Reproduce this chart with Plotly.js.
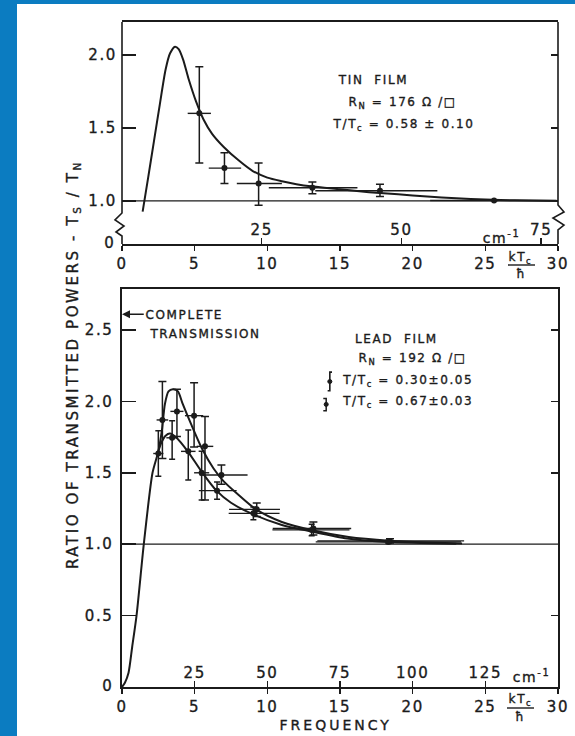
<!DOCTYPE html>
<html>
<head>
<meta charset="utf-8">
<script src="https://cdn.plot.ly/plotly-3.0.1.min.js"></script>
<style>
html,body{margin:0;padding:0;background:#0b7cc1;width:575px;height:736px;overflow:hidden}
#plot{position:absolute;left:17px;top:4px;width:558px;height:732px;background:#fff}
#plot svg text{letter-spacing:1.6px;stroke:#1b1b1b;stroke-width:0.35px}
#plot .annotation[data-index="0"] text{letter-spacing:2.6px}
#plot .annotation[data-index="1"] text{letter-spacing:3px}
</style>
</head>
<body>
<div id="plot"></div>
<script>
// ---------- tick labels ----------
const kTicks = [0, 5, 10, 15, 20, 25, 30];
const kTickText = ['0', '5', '10', '15', '20', '25', '30'];
const tinCmTicks = [25, 50, 75];
const tinCmText = ['25', '50', '75'];
const leadCmTicks = [25, 50, 75, 100, 125];
const leadCmText = ['25', '50', '75', '100', '125'];
const tinCmPerUnit = 2.6;   // cm^-1 per kTc/hbar (tin)
const leadCmPerUnit = 5.0;  // cm^-1 per kTc/hbar (lead)
const tinYTicks = [0.705, 1.0, 1.5, 2.0];
const tinYText = ['0', '1.0', '1.5', '2.0'];
const leadYTicks = [0, 0.5, 1.0, 1.5, 2.0, 2.5];
const leadYText = ['0', '0.5', '1.0', '1.5', '2.0', '2.5'];

// ---------- tin film (top) ----------
const tinCurveX = [1.42, 1.8, 2.2, 2.6, 3.0, 3.3, 3.65, 3.9, 4.2, 4.6, 5.1, 5.6, 6.2, 7.0, 8.0, 9.0, 10, 11, 12, 13, 15, 17, 19, 21, 23, 25, 27, 30];
const tinCurveY = [0.927, 1.16, 1.41, 1.66, 1.9, 2.01, 2.057, 2.04, 1.97, 1.83, 1.68, 1.56, 1.46, 1.37, 1.28, 1.205, 1.16, 1.135, 1.115, 1.10, 1.08, 1.06, 1.045, 1.03, 1.018, 1.01, 1.004, 1.0];
const tinX = [5.32, 7.05, 9.4, 13.1, 17.75, 25.6];
const tinY = [1.60, 1.225, 1.12, 1.09, 1.07, 1.003];
const tinEyPlus = [0.32, 0.105, 0.14, 0.04, 0.045, 0];
const tinEyMinus = [0.34, 0.105, 0.15, 0.04, 0.04, 0];
const tinExPlus = [0.8, 1.15, 1.6, 3.1, 3.95, 4.3];
const tinExMinus = [0.8, 1.08, 1.5, 3.0, 4.45, 4.4];

// ---------- lead film (bottom) ----------
const leadRiseX = [0, 0.2, 0.45, 0.7, 1.0, 1.5, 2.1, 2.5];
const leadRiseY = [0, 0.03, 0.1, 0.28, 0.5, 1.0, 1.5, 1.65];
const leadHighX = [2.75, 2.95, 3.2, 3.5, 3.85, 4.15, 4.8, 5.5, 6.3, 7.0, 7.85, 9.2, 11, 13.1, 15.6, 18.4, 21, 23.4];
const leadHighY = [1.8, 1.98, 2.07, 2.085, 2.07, 1.99, 1.83, 1.67, 1.53, 1.44, 1.36, 1.245, 1.155, 1.097, 1.05, 1.024, 1.012, 1.005];
const leadLowX = [2.7, 3.0, 3.3, 3.7, 4.56, 5.5, 6.5, 7.5, 9.0, 11, 13, 15.5, 18.3, 23];
const leadLowY = [1.71, 1.76, 1.775, 1.75, 1.645, 1.505, 1.375, 1.29, 1.21, 1.135, 1.09, 1.04, 1.015, 1.003];

const leadAX = [2.78, 3.78, 4.96, 5.71, 6.84, 9.27, 13.17, 18.44];
const leadAY = [1.87, 1.93, 1.90, 1.685, 1.485, 1.244, 1.11, 1.023];
const leadAEyP = [0.27, 0.155, 0.23, 0.21, 0.07, 0.045, 0.045, 0.015];
const leadAEyM = [0.27, 0.175, 0.22, 0.375, 0.065, 0.05, 0.045, 0.015];
const leadAExP = [0.4, 0.45, 0.63, 0.57, 1.8, 1.6, 2.6, 5.1];
const leadAExM = [0.4, 0.45, 0.63, 0.57, 1.5, 1.9, 2.8, 5.0];

const leadBX = [2.5, 3.45, 4.56, 5.48, 6.54, 9.04, 13.05, 18.33];
const leadBY = [1.635, 1.745, 1.65, 1.50, 1.375, 1.216, 1.10, 1.016];
const leadBEyP = [0.16, 0.12, 0.15, 0.15, 0.06, 0.045, 0.04, 0.012];
const leadBEyM = [0.16, 0.15, 0.2, 0.19, 0.06, 0.045, 0.04, 0.012];
const leadBExP = [0.35, 0.4, 0.5, 0.52, 1.35, 1.8, 2.6, 5.0];
const leadBExM = [0.35, 0.4, 0.5, 0.52, 1.25, 1.7, 2.7, 5.0];

// ---------- helpers (page pixel -> paper) ----------
const PX = p => (p - 122) / 436;
const PY = p => (687 - p) / 665;
const INK = '#1b1b1b';

const curveLine = {color: INK, width: 2, shape: 'spline', smoothing: 0.7};
function pts(x, y, eyp, eym, exp, exm, xa, ya, cap) {
  return {
    x: x, y: y, xaxis: xa, yaxis: ya, mode: 'markers', type: 'scatter', hoverinfo: 'skip',
    marker: {color: INK, size: 6},
    error_y: {type: 'data', symmetric: false, array: eyp, arrayminus: eym, color: INK, thickness: 1.5, width: cap},
    error_x: {type: 'data', symmetric: false, array: exp, arrayminus: exm, color: INK, thickness: 1.4, width: 0},
    cliponaxis: false
  };
}

const traces = [
  {x: tinCurveX, y: tinCurveY, xaxis: 'x', yaxis: 'y', mode: 'lines', line: curveLine, hoverinfo: 'skip'},
  pts(tinX, tinY, tinEyPlus, tinEyMinus, tinExPlus, tinExMinus, 'x', 'y', 4),
  {x: leadRiseX.concat(leadHighX), y: leadRiseY.concat(leadHighY), xaxis: 'x2', yaxis: 'y2', mode: 'lines', line: curveLine, hoverinfo: 'skip'},
  {x: leadRiseX.slice(-1).concat(leadLowX), y: leadRiseY.slice(-1).concat(leadLowY), xaxis: 'x2', yaxis: 'y2', mode: 'lines', line: curveLine, hoverinfo: 'skip'},
  pts(leadAX, leadAY, leadAEyP, leadAEyM, leadAExP, leadAExM, 'x2', 'y2', 4),
  pts(leadBX, leadBY, leadBEyP, leadBEyM, leadBExP, leadBExM, 'x2', 'y2', 3),
  // empty traces to register the overlay axes
  {x: [], y: [], xaxis: 'x3', yaxis: 'y', mode: 'markers', hoverinfo: 'skip'},
  {x: [], y: [], xaxis: 'x', yaxis: 'y3', mode: 'markers', hoverinfo: 'skip'},
  {x: [], y: [], xaxis: 'x4', yaxis: 'y2', mode: 'markers', hoverinfo: 'skip'},
  {x: [], y: [], xaxis: 'x2', yaxis: 'y4', mode: 'markers', hoverinfo: 'skip'}
];

const tickFont = {family: 'DejaVu Sans', size: 15, color: INK};
const baseX = {
  range: [0, 30], tickvals: kTicks, ticktext: kTickText, ticks: 'outside', ticklen: 5, tickwidth: 1.5,
  tickcolor: INK, showline: true, mirror: true, linewidth: 1.6, linecolor: INK,
  showgrid: false, zeroline: false, tickfont: tickFont, fixedrange: true
};
const cmAxis = (over, anchor, maxCm, vals, txt) => ({
  overlaying: over, anchor: anchor, side: 'bottom', range: [0, maxCm], tickvals: vals, ticktext: txt,
  ticks: 'inside', ticklen: 6, tickwidth: 1.5, tickcolor: INK, ticklabelposition: 'inside',
  showline: false, showgrid: false, zeroline: false, tickfont: tickFont
});
const tinRange = [0.705, 2.226];
const leadRange = [0, 2.787];

const layout = {
  width: 558, height: 732,
  margin: {l: 105, r: 17, t: 18, b: 49, pad: 0},
  paper_bgcolor: '#ffffff', plot_bgcolor: 'rgba(0,0,0,0)',
  showlegend: false,
  font: {family: 'DejaVu Sans', size: 14, color: INK},
  xaxis: Object.assign({}, baseX, {domain: [0, 1], anchor: 'y'}),
  yaxis: {domain: [PY(244), 1], anchor: 'x', range: tinRange, tickvals: tinYTicks, ticktext: tinYText,
    ticks: 'inside', ticklen: 14, tickwidth: 1.5, tickcolor: INK, showline: false, showgrid: false,
    zeroline: false, tickfont: tickFont, ticklabelstandoff: 4},
  xaxis2: Object.assign({}, baseX, {domain: [0, 1], anchor: 'y2'}),
  yaxis2: {domain: [0, PY(289)], anchor: 'x2', range: leadRange, tickvals: leadYTicks, ticktext: leadYText,
    ticks: 'inside', ticklen: 14, tickwidth: 1.5, tickcolor: INK, showline: true, mirror: true,
    linewidth: 1.6, linecolor: INK, showgrid: false, zeroline: false, tickfont: tickFont, ticklabelstandoff: 4},
  xaxis3: cmAxis('x', 'y', 30 * tinCmPerUnit, tinCmTicks, tinCmText),
  xaxis4: cmAxis('x2', 'y2', 30 * leadCmPerUnit, leadCmTicks, leadCmText),
  yaxis3: {overlaying: 'y', side: 'right', anchor: 'x', range: tinRange, tickvals: [1.5, 2.0],
    ticks: 'inside', ticklen: 7, tickwidth: 1.5, tickcolor: INK, showticklabels: false,
    showline: false, showgrid: false, zeroline: false},
  yaxis4: {overlaying: 'y2', side: 'right', anchor: 'x2', range: leadRange, tickvals: [0.5, 1.5, 2.0, 2.5],
    ticks: 'inside', ticklen: 7, tickwidth: 1.5, tickcolor: INK, showticklabels: false,
    showline: false, showgrid: false, zeroline: false},
  shapes: [],
  annotations: []
};

// unity reference lines
layout.shapes.push({type: 'line', xref: 'x', yref: 'y', x0: 0, x1: 30, y0: 1, y1: 1, line: {color: INK, width: 1.3}});
layout.shapes.push({type: 'line', xref: 'x2', yref: 'y2', x0: 0, x1: 30, y0: 1, y1: 1, line: {color: INK, width: 1.3}});

// top panel side borders with axis-break zigzags
function pathOf(list) {
  return list.map((p, i) => (i ? 'L' : 'M') + PX(p[0]).toFixed(5) + ',' + PY(p[1]).toFixed(5)).join(' ');
}
layout.shapes.push({type: 'path', xref: 'paper', yref: 'paper', line: {color: INK, width: 1.6},
  path: pathOf([[122, 22], [122, 213], [115, 220], [124, 226], [116, 232], [122, 236], [122, 244]])});
layout.shapes.push({type: 'path', xref: 'paper', yref: 'paper', line: {color: INK, width: 1.6},
  path: pathOf([[558, 22], [558, 205], [564, 212], [553, 218], [564, 225], [558, 230], [558, 244]])});

// kTc / hbar fraction bars
layout.shapes.push({type: 'line', xref: 'paper', yref: 'paper', x0: PX(508), x1: PX(535), y0: PY(265), y1: PY(265), line: {color: INK, width: 1.4}});
layout.shapes.push({type: 'line', xref: 'paper', yref: 'paper', x0: PX(507), x1: PX(534), y0: PY(708), y1: PY(708), line: {color: INK, width: 1.4}});

// legend keys (lead)
layout.shapes.push({type: 'path', xref: 'x2', yref: 'y2', line: {color: INK, width: 1.6},
  path: 'M 14.45,2.205 L 14.3,2.205 L 14.3,2.075 L 14.15,2.075'});
layout.shapes.push({type: 'circle', xref: 'x2', yref: 'y2', x0: 14.16, x1: 14.44, y0: 2.125, y1: 2.153, fillcolor: INK, line: {color: INK, width: 1}});
layout.shapes.push({type: 'path', xref: 'x2', yref: 'y2', line: {color: INK, width: 1.5},
  path: 'M 13.85,2.02 L 14.05,2.02 L 14.05,1.935 L 13.85,1.935'});
layout.shapes.push({type: 'circle', xref: 'x2', yref: 'y2', x0: 13.91, x1: 14.19, y0: 1.965, y1: 1.993, fillcolor: INK, line: {color: INK, width: 1}});

const small = {family: 'DejaVu Sans', size: 12, color: INK};
const mid = {family: 'DejaVu Sans', size: 14, color: INK};
const A = layout.annotations;
function note(o) { A.push(Object.assign({showarrow: false, xanchor: 'center', yanchor: 'middle', font: small}, o)); }

note({xref: 'paper', yref: 'paper', x: PX(73), y: PY(365), textangle: -90,
  text: 'RATIO OF TRANSMITTED POWERS - T<sub>S</sub> / T<sub>N</sub>', font: {family: 'DejaVu Sans', size: 15, color: INK}});
note({xref: 'paper', yref: 'paper', x: PX(336), y: PY(725), text: 'FREQUENCY', font: mid});

// tin texts
note({xref: 'x', yref: 'y', x: 17.3, y: 1.83, text: 'TIN  FILM'});
note({xref: 'x', yref: 'y', x: 19.3, y: 1.67, text: 'R<sub>N</sub> = 176 Ω /□'});
note({xref: 'x', yref: 'y', x: 19.4, y: 1.52, text: 'T/T<sub>c</sub> = 0.58 ± 0.10'});

// lead texts
note({xref: 'x2', yref: 'y2', x: 1.95, y: 2.605, xanchor: 'left', text: 'COMPLETE'});
note({xref: 'x2', yref: 'y2', x: 2.4, y: 2.475, xanchor: 'left', text: 'TRANSMISSION'});
A.push({xref: 'x2', yref: 'y2', x: 0, y: 2.61, ax: 1.6, ay: 2.61, axref: 'x2', ayref: 'y2', text: '',
  showarrow: true, arrowhead: 2, arrowsize: 1, arrowwidth: 1.6, arrowcolor: INK, standoff: 0, startstandoff: 0});
note({xref: 'x2', yref: 'y2', x: 18.9, y: 2.44, text: 'LEAD  FILM'});
note({xref: 'x2', yref: 'y2', x: 20.0, y: 2.30, text: 'R<sub>N</sub> = 192 Ω /□'});
note({xref: 'x2', yref: 'y2', x: 15.9, y: 2.14, xanchor: 'left', text: 'T/T<sub>c</sub> = 0.30±0.05'});
note({xref: 'x2', yref: 'y2', x: 15.9, y: 1.995, xanchor: 'left', text: 'T/T<sub>c</sub> = 0.67±0.03'});

// zero labels of the y axes (axis hides them next to inside x labels)
note({xref: 'paper', yref: 'y', x: PX(117), y: tinYTicks[0] + 0.01, xanchor: 'right', text: tinYText[0], font: tickFont});
note({xref: 'paper', yref: 'y2', x: PX(115), y: leadYTicks[0] + 0.01, xanchor: 'right', text: leadYText[0], font: tickFont});

// axis unit labels
note({xref: 'x', yref: 'paper', x: 26.1, y: PY(237), text: 'cm<sup>-1</sup>', font: mid});
note({xref: 'x2', yref: 'paper', x: 28.2, y: PY(676), text: 'cm<sup>-1</sup>', font: mid});
note({xref: 'x', yref: 'paper', x: 27.45, y: PY(258), text: 'kT<sub>c</sub>'});
note({xref: 'x', yref: 'paper', x: 27.45, y: PY(274), text: 'ħ'});
note({xref: 'x2', yref: 'paper', x: 27.4, y: PY(700), text: 'kT<sub>c</sub>'});
note({xref: 'x2', yref: 'paper', x: 27.4, y: PY(717), text: 'ħ'});

Plotly.newPlot('plot', traces, layout, {staticPlot: true, displayModeBar: false});
</script>
</body>
</html>
